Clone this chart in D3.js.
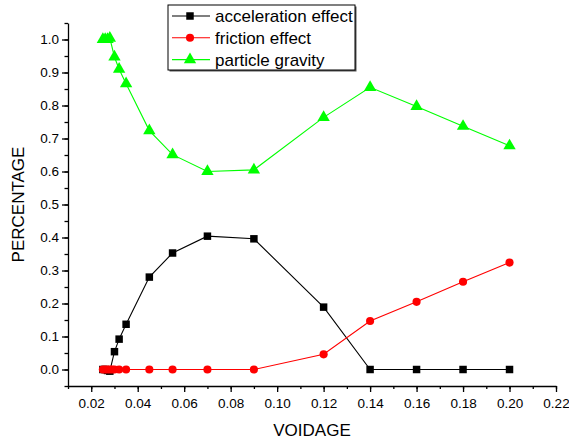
<!DOCTYPE html>
<html>
<head>
<meta charset="utf-8">
<script src="https://d3js.org/d3.v7.min.js"></script>
<style>
  body { margin: 0; background: #fff; }
  svg { display: block; font-family: "Liberation Sans", Arial, sans-serif; }
</style>
</head>
<body>
<svg id="chart"></svg>
<script>
// values
const accelX = [0.025, 0.026, 0.027, 0.028, 0.030, 0.032, 0.035, 0.045, 0.055, 0.070, 0.090, 0.120, 0.140, 0.160, 0.180, 0.200];
const accelY = [0.000, 0.000, -0.003, -0.005, 0.054, 0.092, 0.137, 0.280, 0.353, 0.404, 0.396, 0.189, 0.000, 0.000, 0.000, 0.000];

const fricX = [0.025, 0.026, 0.027, 0.028, 0.029, 0.030, 0.032, 0.035, 0.045, 0.055, 0.070, 0.090, 0.120, 0.140, 0.160, 0.180, 0.200];
const fricY = [0, 0, 0, 0, 0, 0, 0, 0, 0, 0, 0, 0, 0.046, 0.147, 0.205, 0.266, 0.324];

const gravX = [0.025, 0.026, 0.027, 0.028, 0.030, 0.032, 0.035, 0.045, 0.055, 0.070, 0.090, 0.120, 0.140, 0.160, 0.180, 0.200];
const gravY = [1.000, 1.000, 1.000, 1.004, 0.947, 0.910, 0.866, 0.724, 0.651, 0.600, 0.605, 0.764, 0.855, 0.797, 0.737, 0.678];

const seriesNames = ['acceleration effect', 'friction effect', 'particle gravity'];
const xTicks = [0.02, 0.04, 0.06, 0.08, 0.10, 0.12, 0.14, 0.16, 0.18, 0.20, 0.22];
const yTicks = [0.0, 0.1, 0.2, 0.3, 0.4, 0.5, 0.6, 0.7, 0.8, 0.9, 1.0];

const width = 569, height = 442;
const svg = d3.select('#chart').attr('width', width).attr('height', height);

const x = d3.scaleLinear().domain([0.01, 0.22]).range([68, 556]);
const y = d3.scaleLinear().domain([-0.05, 1.05]).range([386, 23]);

const tickFont = 13.5;

// minor ticks
svg.append('g')
  .attr('transform', `translate(0, ${y.range()[0]})`)
  .call(d3.axisBottom(x).tickValues(d3.range(0.01, 0.2201, 0.01)).tickSize(3).tickFormat(''))
  .call(g => g.select('.domain').remove());
svg.append('g')
  .attr('transform', `translate(${x.range()[0]}, 0)`)
  .call(d3.axisLeft(y).tickValues(d3.range(-0.05, 1.0501, 0.05)).tickSize(3.5).tickFormat(''))
  .call(g => g.select('.domain').remove());

// major ticks
const xAxis = svg.append('g')
  .attr('transform', `translate(0, ${y.range()[0]})`)
  .call(d3.axisBottom(x).tickValues(xTicks).tickSize(6).tickSizeOuter(0).tickPadding(6).tickFormat(d3.format('.2f')));
const yAxis = svg.append('g')
  .attr('transform', `translate(${x.range()[0]}, 0)`)
  .call(d3.axisLeft(y).tickValues(yTicks).tickSize(6).tickSizeOuter(0).tickPadding(3).tickFormat(d3.format('.1f')));

[xAxis, yAxis].forEach(g => {
  g.selectAll('text').attr('font-size', tickFont).attr('font-family', null).attr('fill', '#000');
  g.selectAll('line, path').attr('stroke', '#000').attr('stroke-width', 1.3);
});
svg.selectAll('.tick line').attr('stroke', '#000').attr('stroke-width', 1.3);

// axis titles
svg.append('text')
  .attr('x', (x.range()[0] + x.range()[1]) / 2).attr('y', 436)
  .attr('text-anchor', 'middle').attr('font-size', 17)
  .text('VOIDAGE');
svg.append('text')
  .attr('transform', `translate(24, ${(y.range()[0] + y.range()[1]) / 2}) rotate(-90)`)
  .attr('text-anchor', 'middle').attr('font-size', 17)
  .text('PERCENTAGE');

const line = d3.line().x(d => x(d[0])).y(d => y(d[1]));

const accel = accelX.map((v, i) => [v, accelY[i]]);
const fric = fricX.map((v, i) => [v, fricY[i]]);
const grav = gravX.map((v, i) => [v, gravY[i]]);

const colors = ['#000000', '#ff0000', '#00ff00'];
const symbols = [d3.symbolSquare, d3.symbolCircle, d3.symbolTriangle];
const symSize = [56, 52, 66];

[accel, fric, grav].forEach((data, k) => {
  svg.append('path')
    .datum(data)
    .attr('fill', 'none')
    .attr('stroke', colors[k])
    .attr('stroke-width', 1.1)
    .attr('d', line);
  svg.append('g').selectAll('path')
    .data(data)
    .enter()
    .append('path')
    .attr('transform', d => `translate(${x(d[0])}, ${y(d[1])})`)
    .attr('d', d3.symbol().type(symbols[k]).size(symSize[k]))
    .attr('fill', colors[k]);
});

// legend
const legend = svg.append('g');
legend.append('rect')
  .attr('x', 169.5).attr('y', 6.5).attr('width', 187).attr('height', 65)
  .attr('fill', '#555');
legend.append('rect')
  .attr('x', 168).attr('y', 5).attr('width', 187).attr('height', 65)
  .attr('fill', '#fff').attr('stroke', '#000').attr('stroke-width', 1);

seriesNames.forEach((name, k) => {
  const ly = 16 + k * 21.8;
  legend.append('line')
    .attr('x1', 172).attr('x2', 210).attr('y1', ly).attr('y2', ly)
    .attr('stroke', colors[k]).attr('stroke-width', 1.1);
  legend.append('path')
    .attr('transform', `translate(190, ${ly})`)
    .attr('d', d3.symbol().type(symbols[k]).size(symSize[k]))
    .attr('fill', colors[k]);
  legend.append('text')
    .attr('x', 215).attr('y', ly).attr('dy', '0.35em')
    .attr('font-size', 17)
    .text(name);
});
</script>
</body>
</html>
